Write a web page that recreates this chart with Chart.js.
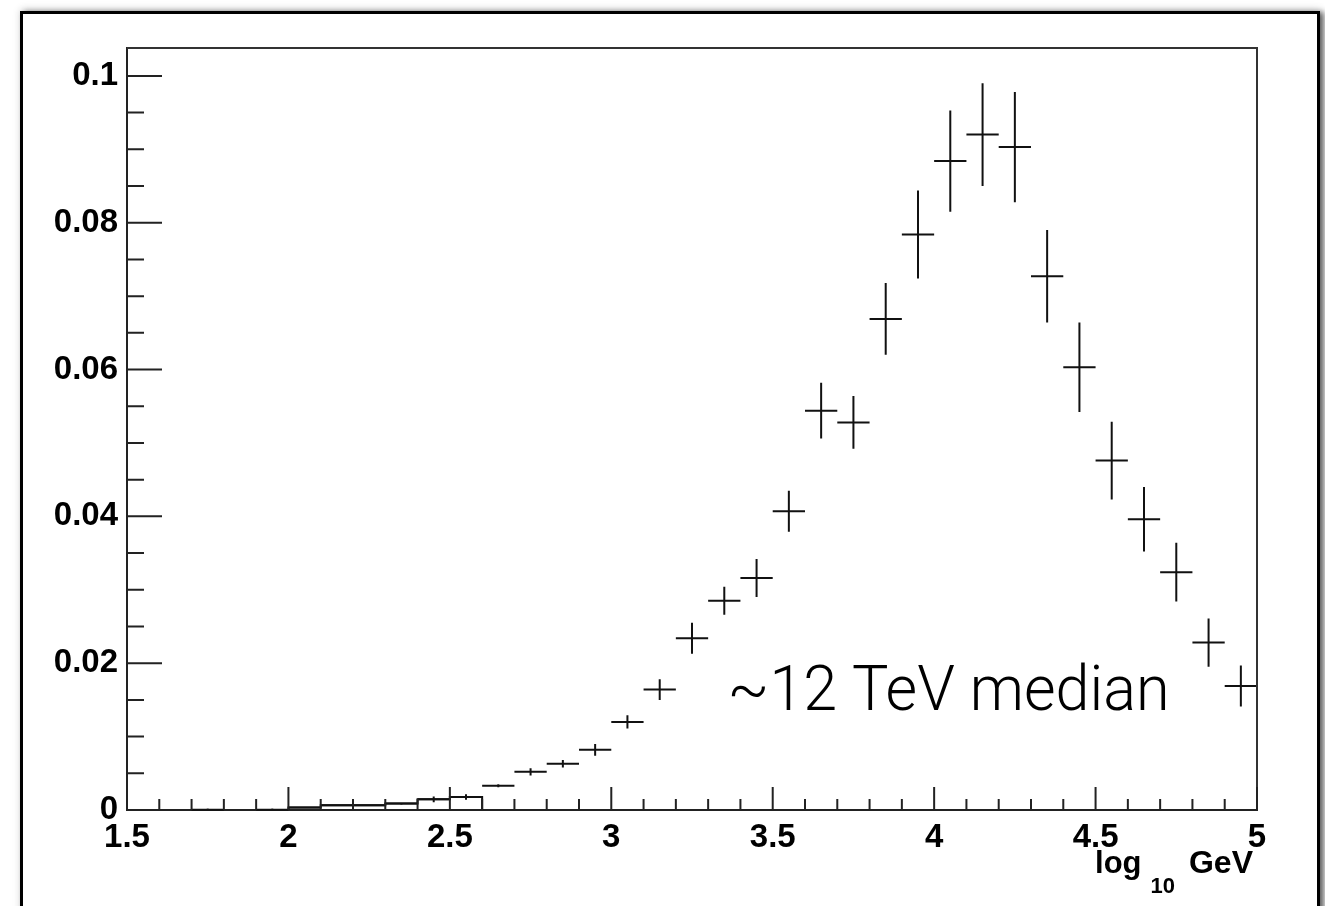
<!DOCTYPE html>
<html>
<head>
<meta charset="utf-8">
<script src="https://cdn.jsdelivr.net/npm/chart.js@4.4.1/dist/chart.umd.min.js"></script>
<style>
html,body{margin:0;padding:0;background:#fff;width:1325px;height:906px;overflow:hidden;}
#frame{position:absolute;left:20px;top:11px;width:1294px;height:1000px;border:3px solid #000;background:#fff;
  box-shadow:4px 1px 6px rgba(0,0,0,0.6), 0 -2px 8px rgba(0,0,0,0.12);}
#wrap{position:absolute;left:0;top:0;width:1325px;height:906px;}
</style>
</head>
<body>
<div id="frame"></div>
<div id="wrap"><canvas id="c" width="1325" height="906"></canvas></div>
<script>
// ---- data ----
const binCenters = [1.75, 1.95, 2.05, 2.15, 2.25, 2.35, 2.45, 2.55,
  2.65, 2.75, 2.85, 2.95, 3.05, 3.15, 3.25, 3.35, 3.45, 3.55, 3.65, 3.75,
  3.85, 3.95, 4.05, 4.15, 4.25, 4.35, 4.45, 4.55, 4.65, 4.75, 4.85, 4.95];
const binValues = [0.00002, 0.00002, 0.00033, 0.00064, 0.00064, 0.00087, 0.00146, 0.00177,
  0.0033, 0.0052, 0.0063, 0.0082, 0.0120, 0.0164, 0.0234, 0.0285, 0.0316, 0.0407, 0.0544, 0.0528,
  0.0669, 0.0784, 0.0884, 0.0920, 0.0903, 0.0727, 0.0603, 0.0476, 0.0396, 0.0324, 0.0228, 0.0169];
const binErrors = [0.0002, 0.0002, 0.0001, 0.00012, 0.00012, 0.00014, 0.00039, 0.00039,
  0.0002, 0.0005, 0.0005, 0.0008, 0.0009, 0.0014, 0.0021, 0.0019, 0.0026, 0.0028, 0.0038, 0.0036,
  0.0049, 0.0060, 0.0069, 0.0070, 0.0075, 0.0063, 0.0061, 0.0053, 0.0044, 0.0040, 0.0033, 0.0028];
const binWidth = 0.1;
// low-energy bins that are also drawn as a histogram outline
const stepCenters = [2.05, 2.15, 2.25, 2.35, 2.45, 2.55];
const stepValues = [0.00033, 0.00064, 0.00064, 0.00087, 0.00146, 0.00177];

const xTickValues = [1.5, 2, 2.5, 3, 3.5, 4, 4.5, 5];
const xTickLabels = ['1.5', '2', '2.5', '3', '3.5', '4', '4.5', '5'];
const yTickValues = [0, 0.02, 0.04, 0.06, 0.08, 0.1];
const yTickLabels = ['0', '0.02', '0.04', '0.06', '0.08', '0.1'];
const xMinorDiv = 5, yMinorDiv = 4;

const annotationText = '~12 TeV median';
const axisTitleMain = 'log';
const axisTitleSub = '10';
const axisTitleUnit = 'GeV';

// ---- styles / placement ----
const ANNOT = {x: 3.36, y: 0.0136};
const INK = '#111';

const crossPoints = binCenters.map((c, i) => ({x: c, y: binValues[i], err: binErrors[i]}));
const stepPoints = [{x: stepCenters[0] - binWidth / 2, y: 0}];
stepCenters.forEach((c, i) => {
  stepPoints.push({x: c - binWidth / 2, y: stepValues[i]});
  stepPoints.push({x: c + binWidth / 2, y: stepValues[i]});
});
stepPoints.push({x: stepCenters[stepCenters.length - 1] + binWidth / 2, y: 0});

const rootPlugin = {
  id: 'rootStyle',
  afterDatasetsDraw(chart) {
    const ctx = chart.ctx, xs = chart.scales.x, ys = chart.scales.y, a = chart.chartArea;
    ctx.save();
    // error crosses
    ctx.strokeStyle = INK; ctx.lineWidth = 2; ctx.lineCap = 'butt';
    crossPoints.forEach(p => {
      const px = xs.getPixelForValue(p.x), py = ys.getPixelForValue(p.y);
      const x0 = xs.getPixelForValue(p.x - binWidth / 2), x1 = xs.getPixelForValue(p.x + binWidth / 2);
      const yl = ys.getPixelForValue(Math.max(0, p.y - p.err)), yh = ys.getPixelForValue(p.y + p.err);
      ctx.beginPath();
      ctx.moveTo(x0, py); ctx.lineTo(x1, py);
      ctx.moveTo(px, yl); ctx.lineTo(px, yh);
      ctx.stroke();
    });
    // top and right frame
    ctx.strokeStyle = '#333'; ctx.lineWidth = 2;
    ctx.beginPath();
    ctx.moveTo(a.left, a.top); ctx.lineTo(a.right, a.top); ctx.lineTo(a.right, a.bottom);
    ctx.stroke();
    // inward ticks, x
    ctx.strokeStyle = '#222'; ctx.lineWidth = 2;
    ctx.beginPath();
    for (let i = 0; i < xTickValues.length; i++) {
      const v = xTickValues[i], px = xs.getPixelForValue(v);
      ctx.moveTo(px, a.bottom); ctx.lineTo(px, a.bottom - 23);
      if (i < xTickValues.length - 1) {
        const step = (xTickValues[i + 1] - v) / xMinorDiv;
        for (let k = 1; k < xMinorDiv; k++) {
          const mx = xs.getPixelForValue(v + k * step);
          ctx.moveTo(mx, a.bottom); ctx.lineTo(mx, a.bottom - 11);
        }
      }
    }
    // inward ticks, y
    for (let i = 0; i < yTickValues.length; i++) {
      const v = yTickValues[i], py = ys.getPixelForValue(v);
      ctx.moveTo(a.left, py); ctx.lineTo(a.left + 35, py);
      if (i < yTickValues.length - 1) {
        const step = (yTickValues[i + 1] - v) / yMinorDiv;
        for (let k = 1; k < yMinorDiv; k++) {
          const my = ys.getPixelForValue(v + k * step);
          ctx.moveTo(a.left, my); ctx.lineTo(a.left + 17, my);
        }
      }
    }
    ctx.stroke();
    // annotation (slightly condensed, like a light Helvetica)
    ctx.fillStyle = '#000';
    ctx.font = '300 63px Roboto';
    ctx.textAlign = 'left'; ctx.textBaseline = 'alphabetic';
    const ax = xs.getPixelForValue(ANNOT.x), ay = ys.getPixelForValue(ANNOT.y);
    ctx.save();
    ctx.translate(ax, ay);
    ctx.scale(0.97, 1);
    ctx.fillText(annotationText, 0, 0);
    ctx.restore();
    // axis title: log_10 GeV, right aligned under the axis end
    const right = a.right - 4, base = a.bottom + 63;
    ctx.font = 'bold 32px "Liberation Sans"';
    const wUnit = ctx.measureText(axisTitleUnit).width;
    const unitX = right - wUnit;
    ctx.fillText(axisTitleUnit, unitX, base);
    ctx.font = 'bold 22px "Liberation Sans"';
    const wSub = ctx.measureText(axisTitleSub).width;
    const subX = unitX - 14 - wSub;
    ctx.fillText(axisTitleSub, subX, base + 20);
    ctx.font = 'bold 31px "Liberation Sans"';
    const wMain = ctx.measureText(axisTitleMain).width;
    ctx.fillText(axisTitleMain, subX - 9 - wMain, base);
    ctx.restore();
  }
};

const tickFont = {family: '"Liberation Sans", Arial, sans-serif', weight: 'bold', size: 33};

new Chart(document.getElementById('c').getContext('2d'), {
  type: 'scatter',
  data: {
    datasets: [
      {type: 'line', label: 'histogram', data: stepPoints, borderColor: INK, borderWidth: 2,
       pointRadius: 0, fill: false, tension: 0},
      {label: 'data', data: crossPoints, pointRadius: 0, showLine: false}
    ]
  },
  options: {
    responsive: false, animation: false, devicePixelRatio: 1,
    layout: {padding: {left: 0, top: 48, right: 68, bottom: 0}},
    plugins: {legend: {display: false}, tooltip: {enabled: false}, title: {display: false}},
    scales: {
      x: {
        type: 'linear', min: 1.5, max: 5,
        afterFit: s => { s.height = 96; },
        afterBuildTicks: s => { s.ticks = xTickValues.map(v => ({value: v})); },
        grid: {display: false, drawTicks: false},
        border: {display: true, color: '#222', width: 2},
        ticks: {padding: 8, color: '#000', font: tickFont, maxRotation: 0, autoSkip: false,
                callback: (v, i) => xTickLabels[i]}
      },
      y: {
        type: 'linear', min: 0, max: 0.1038,
        afterFit: s => { s.width = 127; },
        afterBuildTicks: s => { s.ticks = yTickValues.map(v => ({value: v})); },
        grid: {display: false, drawTicks: false},
        border: {display: true, color: '#222', width: 2},
        ticks: {padding: 9, color: '#000', font: tickFont, autoSkip: false,
                callback: (v, i) => yTickLabels[i]}
      }
    }
  },
  plugins: [rootPlugin]
});
</script>
</body>
</html>
